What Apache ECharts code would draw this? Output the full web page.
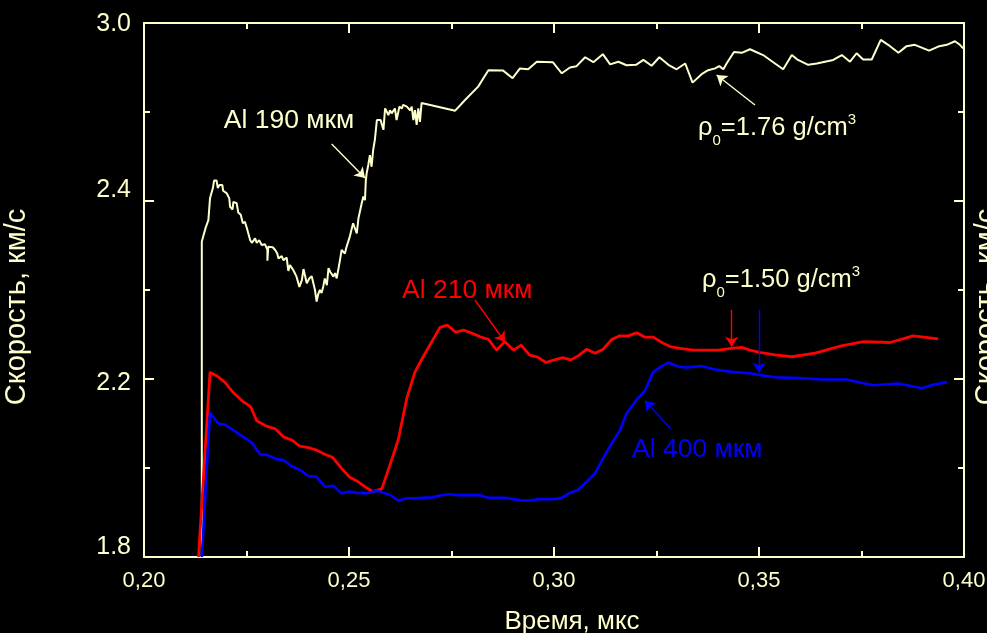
<!DOCTYPE html>
<html>
<head>
<meta charset="utf-8">
<script src="https://cdn.jsdelivr.net/npm/echarts@6/dist/echarts.min.js"></script>
<style>
  html, body { margin: 0; padding: 0; background: #000; }
  #chart { width: 987px; height: 633px; }
</style>
</head>
<body>
<div id="chart"></div>
<script>
// Free-surface velocity profiles: time (mks) vs velocity (km/s)
const timeTickLabels = ['0,20', '0,25', '0,30', '0,35', '0,40'];
const velocityTickValues = [1.8, 2.2, 2.6, 3.0];
const velocityTickLabels = ['1.8', '2.2', '2.4', '3.0'];
const velocityMinorTicks = [2.0, 2.4, 2.8];

// Al 190 mkm, rho0 = 1.76 g/cm3
const al190 = [
  [0.2141,1.80],[0.2141,2.509],[0.2145,2.512],[0.2150,2.539],[0.2157,2.557],[0.2161,2.606],[0.2168,2.629],
  [0.2171,2.646],[0.2177,2.646],[0.2180,2.629],[0.2184,2.636],[0.2191,2.636],[0.2193,2.623],[0.2202,2.617],
  [0.2208,2.606],[0.2210,2.587],[0.2216,2.581],[0.2218,2.598],[0.2226,2.595],[0.2230,2.574],[0.2236,2.569],
  [0.2241,2.550],[0.2246,2.553],[0.2250,2.542],[0.2259,2.512],[0.2263,2.506],[0.2271,2.516],[0.2275,2.506],
  [0.2281,2.512],[0.2287,2.501],[0.2295,2.503],[0.2301,2.490],[0.2301,2.466],[0.2303,2.497],[0.2314,2.496],
  [0.2320,2.490],[0.2325,2.482],[0.2328,2.471],[0.2336,2.476],[0.2340,2.467],[0.2348,2.473],[0.2352,2.443],
  [0.2356,2.456],[0.2364,2.445],[0.2372,2.430],[0.2379,2.407],[0.2385,2.422],[0.2389,2.447],[0.2397,2.415],
  [0.2403,2.426],[0.2409,2.431],[0.2417,2.400],[0.2421,2.374],[0.2425,2.391],[0.2429,2.400],[0.2433,2.393],
  [0.2437,2.407],[0.2441,2.426],[0.2446,2.411],[0.2450,2.449],[0.2454,2.441],[0.2462,2.430],[0.2466,2.438],
  [0.2470,2.426],[0.2478,2.467],[0.2482,2.490],[0.2490,2.482],[0.2494,2.497],[0.2502,2.520],[0.2510,2.550],
  [0.2519,2.527],[0.2523,2.561],[0.2531,2.595],[0.2535,2.610],[0.2539,2.602],[0.2541,2.646],[0.2543,2.662],
  [0.2547,2.681],[0.2551,2.703],[0.2555,2.677],[0.2559,2.715],[0.2563,2.737],[0.2568,2.782],[0.2571,2.786],
  [0.2577,2.782],[0.2584,2.760],[0.2588,2.808],[0.2592,2.801],[0.2596,2.793],[0.2600,2.804],[0.2604,2.797],
  [0.2612,2.808],[0.2616,2.782],[0.2623,2.812],[0.2629,2.808],[0.2632,2.816],[0.2641,2.812],[0.2645,2.816],
  [0.2649,2.804],[0.2653,2.812],[0.2657,2.782],[0.2661,2.804],[0.2665,2.771],[0.2669,2.808],[0.2673,2.778],
  [0.2677,2.820],[0.2681,2.823],[0.2759,2.803],[0.2783,2.827],[0.2815,2.857],[0.2840,2.894],[0.2876,2.893],
  [0.2899,2.876],[0.2917,2.898],[0.2937,2.896],[0.2958,2.913],[0.2997,2.912],[0.3019,2.887],[0.3039,2.900],
  [0.3055,2.903],[0.3076,2.923],[0.3096,2.912],[0.3119,2.930],[0.3137,2.907],[0.3157,2.913],[0.3177,2.905],
  [0.3200,2.906],[0.3218,2.917],[0.3238,2.904],[0.3257,2.923],[0.3279,2.906],[0.3299,2.896],[0.3320,2.909],
  [0.3338,2.866],[0.3360,2.885],[0.3376,2.894],[0.3393,2.898],[0.3403,2.903],[0.3413,2.896],[0.3421,2.909],
  [0.3439,2.935],[0.3458,2.933],[0.3478,2.941],[0.3510,2.928],[0.3539,2.909],[0.3559,2.896],[0.3580,2.928],
  [0.3595,2.917],[0.3620,2.906],[0.3641,2.909],[0.3681,2.917],[0.3702,2.928],[0.3722,2.913],[0.3738,2.932],
  [0.3754,2.918],[0.3775,2.918],[0.3797,2.962],[0.3815,2.951],[0.3840,2.933],[0.3860,2.948],[0.3880,2.951],
  [0.3915,2.938],[0.3937,2.947],[0.3958,2.951],[0.3978,2.959],[0.3990,2.951],[0.3998,2.943]
];

// Al 210 mkm, rho0 = 1.50 g/cm3
const al210 = [
  [0.2133,1.80],[0.2161,2.215],[0.2181,2.205],[0.2198,2.192],[0.2218,2.169],[0.2242,2.149],[0.2260,2.138],
  [0.2275,2.106],[0.2299,2.094],[0.2320,2.088],[0.2340,2.070],[0.2360,2.063],[0.2380,2.049],[0.2401,2.046],
  [0.2421,2.040],[0.2441,2.031],[0.2460,2.024],[0.2482,1.999],[0.2501,1.980],[0.2519,1.971],[0.2539,1.958],
  [0.2558,1.947],[0.2580,1.953],[0.2600,2.007],[0.2620,2.063],[0.2641,2.157],[0.2661,2.216],[0.2681,2.250],
  [0.2702,2.284],[0.2722,2.316],[0.2740,2.321],[0.2760,2.305],[0.2779,2.310],[0.2799,2.303],[0.2820,2.295],
  [0.2840,2.289],[0.2860,2.265],[0.2880,2.284],[0.2901,2.265],[0.2920,2.276],[0.2940,2.254],[0.2960,2.249],
  [0.2980,2.237],[0.3001,2.243],[0.3021,2.248],[0.3041,2.243],[0.3059,2.252],[0.3080,2.267],[0.3100,2.258],
  [0.3120,2.267],[0.3141,2.289],[0.3161,2.297],[0.3181,2.297],[0.3202,2.304],[0.3222,2.294],[0.3242,2.294],
  [0.3263,2.282],[0.3283,2.273],[0.3307,2.269],[0.3340,2.265],[0.3401,2.265],[0.3433,2.269],[0.3458,2.271],
  [0.3478,2.265],[0.3502,2.260],[0.3539,2.254],[0.3580,2.250],[0.3637,2.258],[0.3698,2.274],[0.3754,2.284],
  [0.3820,2.282],[0.3876,2.297],[0.3937,2.290]
];

// Al 400 mkm, rho0 = 1.50 g/cm3
const al400 = [
  [0.2141,1.80],[0.2161,2.124],[0.2181,2.100],[0.2198,2.097],[0.2218,2.085],[0.2242,2.070],[0.2263,2.057],
  [0.2283,2.031],[0.2301,2.029],[0.2324,2.020],[0.2340,2.018],[0.2360,2.004],[0.2380,1.996],[0.2401,1.982],
  [0.2421,1.980],[0.2441,1.958],[0.2462,1.960],[0.2482,1.943],[0.2502,1.947],[0.2523,1.944],[0.2543,1.943],
  [0.2568,1.949],[0.2584,1.944],[0.2600,1.940],[0.2620,1.927],[0.2641,1.932],[0.2661,1.932],[0.2681,1.933],
  [0.2702,1.934],[0.2722,1.938],[0.2742,1.941],[0.2763,1.939],[0.2783,1.939],[0.2820,1.939],[0.2840,1.933],
  [0.2860,1.933],[0.2880,1.933],[0.2901,1.930],[0.2921,1.927],[0.2941,1.927],[0.2962,1.930],[0.2982,1.930],
  [0.3002,1.930],[0.3019,1.933],[0.3039,1.944],[0.3059,1.951],[0.3080,1.969],[0.3100,1.988],[0.3120,2.022],
  [0.3141,2.056],[0.3161,2.085],[0.3177,2.123],[0.3198,2.149],[0.3222,2.174],[0.3242,2.216],[0.3263,2.229],
  [0.3279,2.237],[0.3303,2.228],[0.3320,2.226],[0.3360,2.229],[0.3389,2.222],[0.3433,2.216],[0.3478,2.213],
  [0.3502,2.209],[0.3539,2.204],[0.3596,2.202],[0.3657,2.199],[0.3714,2.199],[0.3746,2.192],[0.3779,2.186],
  [0.3840,2.190],[0.3876,2.183],[0.3897,2.179],[0.3925,2.187],[0.3958,2.193]
];

const CREAM = '#FFFFCC';
const RED = '#FF0000';
const BLUE = '#0000FF';
const FONT = 'Liberation Sans, Arial, sans-serif';

const chart = echarts.init(document.getElementById('chart'), null, { renderer: 'canvas' });

// thin annotation line ending in an arrowhead, placed in data coordinates
function arrow(from, to, color) {
  return {
    silent: true,
    symbol: ['none', 'arrow'],
    symbolSize: 10,
    label: { show: false },
    lineStyle: { color: color, width: 1.4, type: 'solid' },
    itemStyle: { color: color },
    emphasis: { disabled: true },
    animation: false,
    data: [[{ coord: from }, { coord: to }]]
  };
}

function note(coord, text, color, rich, position) {
  return {
    coord: coord,
    symbol: 'circle',
    symbolSize: 0,
    label: {
      show: true,
      position: position || 'inside',
      distance: 0,
      formatter: text,
      color: color,
      fontFamily: FONT,
      fontSize: 26.5,
      rich: rich || {}
    }
  };
}

const rhoRich = {
  t: { color: CREAM, fontFamily: FONT, fontSize: 25.5, lineHeight: 40 },
  sub: { color: CREAM, fontFamily: FONT, fontSize: 15, lineHeight: 15, verticalAlign: 'bottom' },
  sup: { color: CREAM, fontFamily: FONT, fontSize: 15, lineHeight: 15, verticalAlign: 'top', padding: [4, 0, 0, 0] }
};

const tickLen = 10;
const minorLen = 6;

function yAxisBase(pos) {
  return {
    type: 'value', position: pos, min: 1.8, max: 3.0, interval: 0.2,
    splitLine: { show: false },
    axisLine: { show: true, lineStyle: { color: CREAM, width: 2 } }
  };
}

const labelRich = {
  s0: { color: CREAM, fontFamily: FONT, fontSize: 25, padding: [0, 0, 20, 0] },
  s1: { color: CREAM, fontFamily: FONT, fontSize: 25, padding: [8, 0, 0, 0] },
  s2: { color: CREAM, fontFamily: FONT, fontSize: 25, padding: [0, 0, 22, 0] },
  s3: { color: CREAM, fontFamily: FONT, fontSize: 25, padding: [3, 0, 0, 0] }
};

const option = {
  backgroundColor: '#000000',
  animation: false,
  grid: { left: 144, right: 23, top: 23, bottom: 76, containLabel: false, outerBoundsMode: 'none' },
  xAxis: [
    {
      type: 'value', position: 'bottom', min: 0.2, max: 0.4, interval: 0.05,
      name: 'Время, мкс', nameLocation: 'middle', nameGap: 52, nameMoveOverlap: false,
      nameTextStyle: { color: CREAM, fontFamily: FONT, fontSize: 26, padding: [0, 0, 0, 36] },
      splitLine: { show: false },
      axisLine: { show: true, lineStyle: { color: CREAM, width: 2 } },
      axisTick: { show: true, inside: true, length: tickLen, lineStyle: { color: CREAM, width: 2 } },
      minorTick: { show: true, splitNumber: 2, length: minorLen, lineStyle: { color: CREAM, width: 2 } },
      axisLabel: {
        show: true, margin: 13, color: CREAM, fontFamily: FONT, fontSize: 22,
        showMinLabel: true, showMaxLabel: true,
        formatter: v => timeTickLabels[Math.round((v - 0.2) / 0.05)]
      }
    },
    {
      type: 'value', position: 'top', min: 0.2, max: 0.4, interval: 0.05,
      splitLine: { show: false },
      axisLine: { show: true, lineStyle: { color: CREAM, width: 2 } },
      axisTick: { show: true, inside: true, length: tickLen, lineStyle: { color: CREAM, width: 2 } },
      minorTick: { show: true, splitNumber: 2, length: minorLen, lineStyle: { color: CREAM, width: 2 } },
      axisLabel: { show: false }
    }
  ],
  yAxis: [
    Object.assign(yAxisBase('left'), {
      name: 'Скорость, км/с', nameLocation: 'middle', nameGap: 113, nameRotate: 90, nameMoveOverlap: false,
      nameTextStyle: { color: CREAM, fontFamily: FONT, fontSize: 29, padding: [0, 34, 0, 0] },
      axisTick: { show: true, inside: true, length: tickLen, customValues: velocityTickValues,
                  lineStyle: { color: CREAM, width: 2 } },
      axisLabel: {
        show: true, margin: 13, customValues: velocityTickValues,
        formatter: v => {
          const i = velocityTickValues.findIndex(t => Math.abs(t - v) < 1e-6);
          return '{s' + i + '|' + velocityTickLabels[i] + '}';
        },
        rich: labelRich
      }
    }),
    Object.assign(yAxisBase('left'), {
      axisLine: { show: false },
      axisTick: { show: true, inside: true, length: minorLen, customValues: velocityMinorTicks,
                  lineStyle: { color: CREAM, width: 2 } },
      axisLabel: { show: false }
    }),
    Object.assign(yAxisBase('right'), {
      name: 'Скорость, км/с', nameLocation: 'middle', nameGap: 8, nameRotate: 90, nameMoveOverlap: false,
      nameTextStyle: { color: CREAM, fontFamily: FONT, fontSize: 29, padding: [0, 34, 0, 0] },
      axisTick: { show: true, inside: true, length: tickLen, customValues: velocityTickValues,
                  lineStyle: { color: CREAM, width: 2 } },
      axisLabel: { show: false }
    }),
    Object.assign(yAxisBase('right'), {
      axisLine: { show: false },
      axisTick: { show: true, inside: true, length: minorLen, customValues: velocityMinorTicks,
                  lineStyle: { color: CREAM, width: 2 } },
      axisLabel: { show: false }
    })
  ],
  series: [
    {
      name: 'Al 190 мкм', type: 'line', data: al190, xAxisIndex: 0, yAxisIndex: 0,
      showSymbol: false, symbol: 'none', z: 3,
      lineStyle: { color: CREAM, width: 2 },
      markLine: arrow([0.24578, 2.7281], [0.2539, 2.6517], CREAM),
      markPoint: {
        silent: true, animation: false,
        data: [
          note([0.23537, 2.7798], 'Al 190 мкм', CREAM),
          note([0.33512, 2.764], '{t|ρ}{sub|0}{t|=1.76 g/cm}{sup|3}', CREAM, rhoRich, 'right'),
          note([0.3361, 2.4225], '{t|ρ}{sub|0}{t|=1.50 g/cm}{sup|3}', CREAM, rhoRich, 'right')
        ]
      }
    },
    {
      name: 'arrow 1.76', type: 'line', data: [], xAxisIndex: 0, yAxisIndex: 0,
      markLine: arrow([0.34902, 2.8157], [0.33968, 2.8831], CREAM)
    },
    {
      name: 'Al 210 мкм', type: 'line', data: al210, xAxisIndex: 0, yAxisIndex: 0,
      showSymbol: false, symbol: 'none', z: 4,
      lineStyle: { color: RED, width: 2.8 },
      markLine: arrow([0.28073, 2.3775], [0.28805, 2.2831], RED),
      markPoint: {
        silent: true, animation: false,
        data: [ note([0.26293, 2.3978], 'Al 210 мкм', RED, null, 'right') ]
      }
    },
    {
      name: 'arrow 210', type: 'line', data: [], xAxisIndex: 0, yAxisIndex: 0,
      markLine: arrow([0.34334, 2.355], [0.34334, 2.2726], RED)
    },
    {
      name: 'Al 400 мкм', type: 'line', data: al400, xAxisIndex: 0, yAxisIndex: 0,
      showSymbol: false, symbol: 'none', z: 5,
      lineStyle: { color: BLUE, width: 2.6 },
      markLine: arrow([0.32854, 2.0876], [0.3222, 2.1512], BLUE),
      markPoint: {
        silent: true, animation: false,
        data: [ note([0.31902, 2.0404], 'Al 400 мкм', BLUE, null, 'right') ]
      }
    },
    {
      name: 'arrow 400', type: 'line', data: [], xAxisIndex: 0, yAxisIndex: 0,
      markLine: arrow([0.35, 2.355], [0.35, 2.2142], BLUE)
    }
  ]
};

chart.setOption(option);
</script>
</body>
</html>
